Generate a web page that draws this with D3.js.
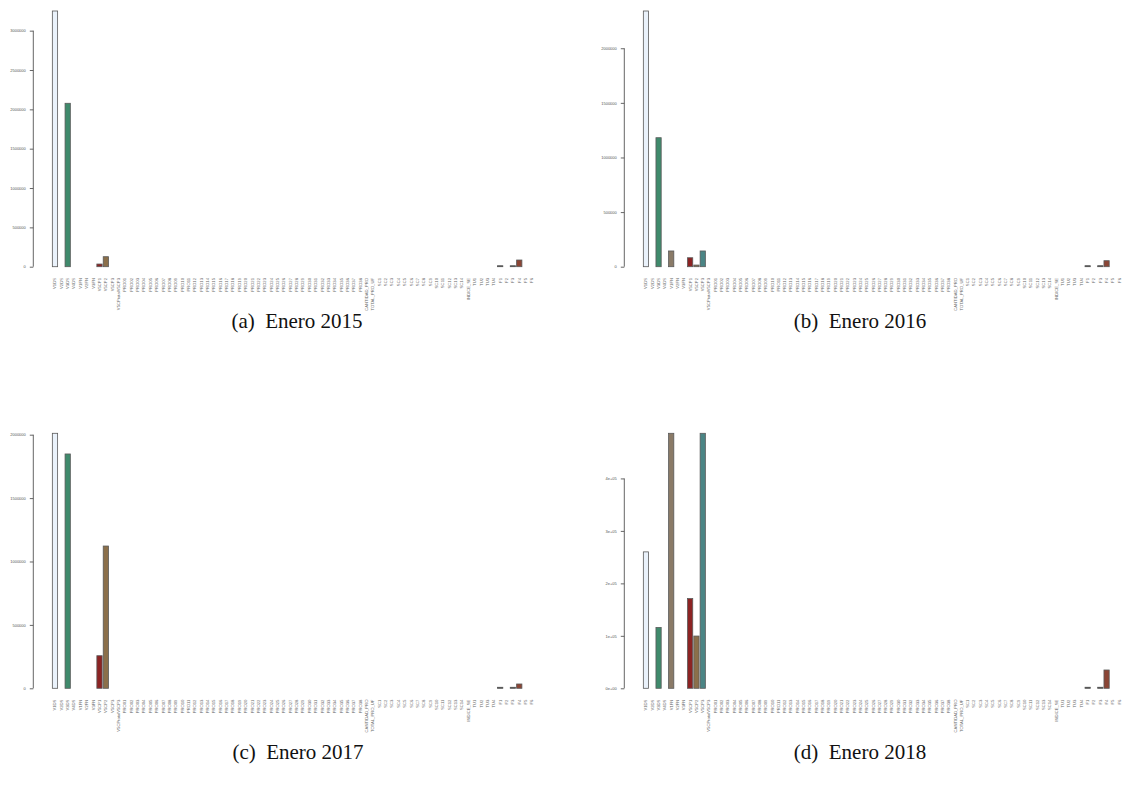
<!DOCTYPE html>
<html>
<head>
<meta charset="utf-8">
<script src="https://cdn.jsdelivr.net/npm/d3@7"></script>
<style>
  html, body { margin: 0; padding: 0; background: #fff; }
  svg { display: block; }
  .cap { font-family: "Palatino Linotype", "Book Antiqua", Palatino, "Liberation Serif", serif; font-size: 21px; fill: #111; }
  .tick-lab { font-family: "Liberation Sans", Arial, sans-serif; font-size: 4px; fill: #555; }
  .cat-lab { font-family: "Liberation Sans", Arial, sans-serif; font-size: 4.2px; fill: #666; }
</style>
</head>
<body>
<svg id="fig" width="1122" height="787"></svg>
<script>
// Variables reported for each month (one bar per variable)
const categories = [
  "V1DS","V2DS","V3DS","V4DS","V1FN","V2FN","V3FN","V5CP1","V5CP2","V5CP3","V5CPtotalV5CP3",
  "PRO01","PRO02","PRO03","PRO04","PRO05","PRO06","PRO07","PRO08","PRO09","PRO10",
  "PRO11","PRO12","PRO13","PRO14","PRO15","PRO16","PRO17","PRO18","PRO19","PRO20",
  "PRO21","PRO22","PRO23","PRO24","PRO25","PRO26","PRO27","PRO28","PRO29","PRO30",
  "PRO31","PRO32","PRO33","PRO34","PRO35","PRO36","PRO37","PRO38",
  "CANTIDAD_PRO","TOTAL_PRO_UF",
  "SC1","SC2","SC3","SC4","SC5","SC6","SC7","SC8","SC9","SC10","SC11","SC12","SC13","SC14",
  "INDICE_SE","TU1","TU2","TU3","TU4","F1","F2","F3","F4","F5","F6"
];

// Fill colour of each variable's bar
const barColors = [
  "#eaf2fb","#5f8f7a","#3f8a6c","#7b8a70","#8a7a67","#8a7a67","#6a6a6a","#8c2323","#8b6f4a","#4b8585","#7a5050",
  "#777","#777","#777","#777","#777","#777","#777","#777","#777","#777",
  "#777","#777","#777","#777","#777","#777","#777","#777","#777","#777",
  "#777","#777","#777","#777","#777","#777","#777","#777","#777","#777",
  "#777","#777","#777","#777","#777","#777","#777","#777",
  "#777","#777",
  "#777","#777","#777","#777","#777","#777","#777","#777","#777","#777","#777","#777","#777","#777",
  "#777","#777","#777","#777","#777","#1a1a1a","#555","#1a1a1a","#8b4535","#777","#777"
];

// Values, January 2015
const enero2015 = [
  3250000,0,2077000,0,0,0,0,34000,127000,0,0,
  0,0,0,0,0,0,0,0,0,0,
  0,0,0,0,0,0,0,0,0,0,
  0,0,0,0,0,0,0,0,0,0,
  0,0,0,0,0,0,0,0,
  0,0,
  0,0,0,0,0,0,0,0,0,0,0,0,0,0,
  0,0,0,0,0,12000,0,12000,85000,0,0
];

// Values, January 2016
const enero2016 = [
  2341000,0,1181000,0,144000,0,0,82000,15000,144000,0,
  0,0,0,0,0,0,0,0,0,0,
  0,0,0,0,0,0,0,0,0,0,
  0,0,0,0,0,0,0,0,0,0,
  0,0,0,0,0,0,0,0,
  0,0,
  0,0,0,0,0,0,0,0,0,0,0,0,0,0,
  0,0,0,0,0,9000,0,9000,55000,0,0
];

// Values, January 2017
const enero2017 = [
  2011000,0,1848000,0,0,0,0,257000,1122000,0,0,
  0,0,0,0,0,0,0,0,0,0,
  0,0,0,0,0,0,0,0,0,0,
  0,0,0,0,0,0,0,0,0,0,
  0,0,0,0,0,0,0,0,
  0,0,
  0,0,0,0,0,0,0,0,0,0,0,0,0,0,
  0,0,0,0,0,8000,0,8000,34000,0,0
];

// Values, January 2018
const enero2018 = [
  260000,0,116000,0,486000,0,0,171000,99600,486000,0,
  0,0,0,0,0,0,0,0,0,0,
  0,0,0,0,0,0,0,0,0,0,
  0,0,0,0,0,0,0,0,0,0,
  0,0,0,0,0,0,0,0,
  0,0,
  0,0,0,0,0,0,0,0,0,0,0,0,0,0,
  0,0,0,0,0,2000,0,2000,34900,0,0
];

// Y axis tick values and their printed labels
const ticks2015 = [0,500000,1000000,1500000,2000000,2500000,3000000];
const tickLabels2015 = ["0","500000","1000000","1500000","2000000","2500000","3000000"];
const ticks2016 = [0,500000,1000000,1500000,2000000];
const tickLabels2016 = ["0","500000","1000000","1500000","2000000"];
const ticks2017 = [0,500000,1000000,1500000,2000000];
const tickLabels2017 = ["0","500000","1000000","1500000","2000000"];
const ticks2018 = [0,100000,200000,300000,400000];
const tickLabels2018 = ["0e+00","1e+05","2e+05","3e+05","4e+05"];

const captions = ["(a)  Enero 2015","(b)  Enero 2016","(c)  Enero 2017","(d)  Enero 2018"];

const svg = d3.select("#fig");

// Panel geometry
const panels = [
  { values: enero2015, ticks: ticks2015, labels: tickLabels2015, caption: captions[0],
    x0: 51.8, step: 6.36, axisX: 33.3, base: 266.7, top: 11, capX: 297, capY: 328 },
  { values: enero2016, ticks: ticks2016, labels: tickLabels2016, caption: captions[1],
    x0: 642.8, step: 6.31, axisX: 624.3, base: 266.7, top: 11, capX: 860, capY: 328 },
  { values: enero2017, ticks: ticks2017, labels: tickLabels2017, caption: captions[2],
    x0: 51.8, step: 6.36, axisX: 33.3, base: 688.3, top: 433.3, capX: 298, capY: 759 },
  { values: enero2018, ticks: ticks2018, labels: tickLabels2018, caption: captions[3],
    x0: 642.8, step: 6.31, axisX: 624.3, base: 688.3, top: 433.3, capX: 860, capY: 759 }
];

panels.forEach(p => {
  const g = svg.append("g");
  const x = d3.scaleBand()
    .domain(categories)
    .range([p.x0, p.x0 + p.step * categories.length])
    .paddingInner(0.17)
    .paddingOuter(0.085);
  const y = d3.scaleLinear()
    .domain([0, d3.max(p.values)])
    .range([p.base, p.top]);

  // bars (zero values collapse onto the baseline as short dashes)
  g.selectAll("rect.bar")
    .data(categories.map((c, i) => ({ c, v: p.values[i], col: barColors[i] })))
    .join("rect")
    .attr("class", "bar")
    .attr("x", d => x(d.c))
    .attr("width", x.bandwidth())
    .attr("y", d => y(d.v))
    .attr("height", d => y(0) - y(d.v))
    .attr("fill", d => d.col)
    .attr("stroke", "#5a5a5a")
    .attr("stroke-width", 0.8);

  // y axis
  const yAxis = d3.axisLeft(y)
    .tickValues(p.ticks)
    .tickFormat((d, i) => p.labels[i])
    .tickSizeOuter(0)
    .tickSize(3.5)
    .tickPadding(4);
  const ax = g.append("g")
    .attr("transform", `translate(${p.axisX},0)`)
    .call(yAxis)
    .attr("font-family", null);
  ax.select(".domain").attr("stroke", "#555").attr("stroke-width", 0.9)
    .attr("d", `M0,${y(p.ticks[p.ticks.length - 1])}V${y(0)}`);
  ax.selectAll(".tick line").attr("stroke", "#555").attr("stroke-width", 0.9);
  ax.selectAll(".tick text").attr("class", "tick-lab").attr("fill", null);

  // category labels, rotated
  g.selectAll("text.cat-lab")
    .data(categories)
    .join("text")
    .attr("class", "cat-lab")
    .attr("transform", d => `translate(${x(d) + x.bandwidth() / 2 + 1.4},${p.base + 11.3}) rotate(-90)`)
    .attr("text-anchor", "end")
    .text(d => d);

  // caption
  g.append("text")
    .attr("class", "cap")
    .attr("x", p.capX)
    .attr("y", p.capY)
    .attr("text-anchor", "middle")
    .style("white-space", "pre")
    .text(p.caption);
});
</script>
</body>
</html>
